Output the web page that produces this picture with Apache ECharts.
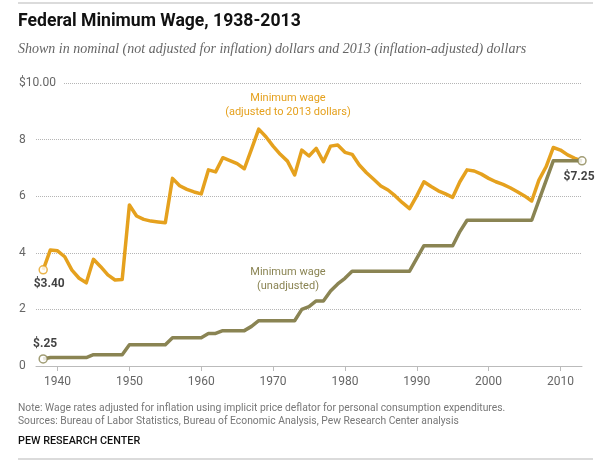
<!DOCTYPE html>
<html>
<head>
<meta charset="utf-8">
<script src="https://cdn.jsdelivr.net/npm/echarts@6/dist/echarts.min.js"></script>
<style>
html,body{margin:0;padding:0;background:#fff;}
#chart{width:608px;height:463px;}
</style>
</head>
<body>
<div id="chart"></div>
<script>
// ---- data ----
const years = [
  1938,1939,
  1940,1941,1942,1943,1944,1945,1946,1947,1948,1949,
  1950,1951,1952,1953,1954,1955,1956,1957,1958,1959,
  1960,1961,1962,1963,1964,1965,1966,1967,1968,1969,
  1970,1971,1972,1973,1974,1975,1976,1977,1978,1979,
  1980,1981,1982,1983,1984,1985,1986,1987,1988,1989,
  1990,1991,1992,1993,1994,1995,1996,1997,1998,1999,
  2000,2001,2002,2003,2004,2005,2006,2007,2008,2009,
  2010,2011,2012,2013
];
const adjustedWage = [
  3.40,4.10,
  4.07,3.86,3.39,3.10,2.94,3.77,3.51,3.22,3.04,3.06,
  5.69,5.30,5.18,5.12,5.09,5.06,6.63,6.37,6.24,6.15,
  6.08,6.93,6.86,7.36,7.26,7.15,6.97,7.66,8.37,8.10,
  7.77,7.48,7.24,6.75,7.63,7.42,7.69,7.22,7.77,7.81,
  7.55,7.48,7.10,6.83,6.60,6.36,6.22,6.01,5.77,5.56,
  6.01,6.51,6.34,6.19,6.08,5.96,6.51,6.93,6.89,6.78,
  6.63,6.51,6.42,6.30,6.16,6.01,5.83,6.57,7.04,7.72,
  7.63,7.46,7.34,7.25
];
const nominalWage = [
  0.25,0.30,
  0.30,0.30,0.30,0.30,0.30,0.40,0.40,0.40,0.40,0.40,
  0.75,0.75,0.75,0.75,0.75,0.75,1.00,1.00,1.00,1.00,
  1.00,1.15,1.15,1.25,1.25,1.25,1.25,1.40,1.60,1.60,
  1.60,1.60,1.60,1.60,2.00,2.10,2.30,2.30,2.65,2.90,
  3.10,3.35,3.35,3.35,3.35,3.35,3.35,3.35,3.35,3.35,
  3.80,4.25,4.25,4.25,4.25,4.25,4.75,5.15,5.15,5.15,
  5.15,5.15,5.15,5.15,5.15,5.15,5.15,5.85,6.55,7.25,
  7.25,7.25,7.25,7.25
];
const xTicks = [1940,1950,1960,1970,1980,1990,2000,2010];
const yTicks = [0,2,4,6,8,10];

const titleText = 'Federal Minimum Wage, 1938-2013';
const subtitleText = 'Shown in nominal (not adjusted for inflation) dollars and 2013 (inflation-adjusted) dollars';
const noteText = 'Note: Wage rates adjusted for inflation using implicit price deflator for personal consumption expenditures.';
const sourceText = 'Sources: Bureau of Labor Statistics, Bureau of Economic Analysis, Pew Research Center analysis';
const creditText = 'PEW RESEARCH CENTER';
const adjustedLabel = 'Minimum wage\n(adjusted to 2013 dollars)';
const nominalLabel = 'Minimum wage\n(unadjusted)';

// ---- styling ----
const ORANGE = '#E5A11E';
const OLIVE = '#8A8453';
const SANS = "Roboto,'Liberation Sans',sans-serif";
const SERIF = "'Liberation Serif','DejaVu Serif',serif";

function pairs(vals){ return years.map((y,i)=>[y, vals[i]]); }
function money(v){ return '$' + v.toFixed(2).replace(/^0/, ''); }
const last = years.length - 1;

const chart = echarts.init(document.getElementById('chart'), null, {renderer:'canvas'});
chart.setOption({
  animation:false,
  backgroundColor:'#fff',
  grid:{left:36, right:26, top:83, bottom:97, containLabel:false},
  xAxis:{
    type:'value', min:1937, max:2013,
    axisLine:{show:true, lineStyle:{color:'#bbb', width:1}},
    axisTick:{show:true, customValues:xTicks, length:5, lineStyle:{color:'#bbb'}},
    axisLabel:{customValues:xTicks, color:'#666', fontSize:12, margin:10, fontFamily:SANS,
      formatter:v => String(v)},
    splitLine:{show:false}
  },
  yAxis:{
    type:'value', min:0, max:10, interval:2,
    axisLine:{show:false}, axisTick:{show:false},
    axisLabel:{
      color:'#666', fontSize:12, fontFamily:SANS,
      align:'left', margin:17,
      backgroundColor:'#fff', padding:[0,8,0,0],
      formatter:v => v===10 ? '$10.00' : String(v)
    },
    splitLine:{show:true, lineStyle:{color:'#b5b5b5', type:'dotted', width:1}}
  },
  series:[
    {
      type:'line', name:'adjusted', data:pairs(adjustedWage),
      showSymbol:false, symbol:'none',
      lineStyle:{color:ORANGE, width:3.5, join:'round'},
      z:2
    },
    {
      type:'line', name:'nominal', data:pairs(nominalWage),
      showSymbol:false, symbol:'none',
      lineStyle:{color:OLIVE, width:3.5, join:'round'},
      z:3
    },
    {
      type:'scatter', z:5,
      symbol:'circle', symbolSize:8,
      data:[
        {value:[years[0], adjustedWage[0]], itemStyle:{color:'#fff', borderColor:ORANGE, borderWidth:1.5},
         label:{show:true, position:'bottom', distance:3, offset:[6,0]}},
        {value:[years[0], nominalWage[0]], itemStyle:{color:'#fff', borderColor:OLIVE, borderWidth:1.5},
         label:{show:true, position:'top', distance:4, offset:[2,0]}},
        {value:[years[last], adjustedWage[last]], itemStyle:{color:'#fff', borderColor:OLIVE, borderWidth:1.5},
         label:{show:true, position:'bottom', distance:5, offset:[-3,0]}}
      ],
      label:{
        color:'#111', fontWeight:'bold', fontSize:12, fontFamily:SANS,
        formatter:p => money(p.value[1])
      }
    }
  ],
  graphic:[
    {type:'line', shape:{x1:18, y1:3, x2:593, y2:3}, style:{stroke:'#cfcfcf', lineWidth:1.5}},
    {type:'line', shape:{x1:18, y1:459, x2:593, y2:459}, style:{stroke:'#cfcfcf', lineWidth:1.5}},
    {type:'text', x:18, y:22, style:{text:titleText, fill:'#111', font:"bold 17.6px "+SANS, textVerticalAlign:'middle'}},
    {type:'text', x:18, y:49, style:{text:subtitleText, fill:'#666', font:"italic 14px "+SERIF, textVerticalAlign:'middle'}},
    {type:'text', x:288, y:91, style:{text:adjustedLabel, fill:ORANGE, font:"11px "+SANS, textAlign:'center', textVerticalAlign:'top', lineHeight:14}},
    {type:'text', x:288, y:265, style:{text:nominalLabel, fill:OLIVE, font:"11px "+SANS, textAlign:'center', textVerticalAlign:'top', lineHeight:14}},
    {type:'text', x:18, y:408, style:{text:noteText, fill:'#777', font:"10.3px "+SANS, textVerticalAlign:'middle'}},
    {type:'text', x:18, y:421, style:{text:sourceText, fill:'#777', font:"10.3px "+SANS, textVerticalAlign:'middle'}},
    {type:'text', x:18, y:441, style:{text:creditText, fill:'#111', font:"500 10.8px "+SANS, textVerticalAlign:'middle'}}
  ]
});
</script>
</body>
</html>
